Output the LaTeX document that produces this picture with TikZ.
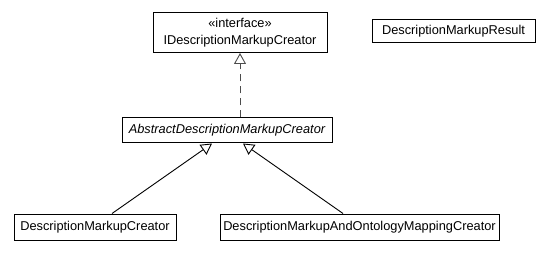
\documentclass[tikz,border=0pt]{standalone}
\usepackage{fontspec}
\setmainfont{Liberation Sans}
\usetikzlibrary{arrows.meta}
\begin{document}
\begin{tikzpicture}[x=1pt,y=-1pt,
  classbox/.style={draw=black,fill=white,line width=1pt,inner sep=0pt,
    font=\fontsize{12.8}{17}\selectfont,align=center},
  gen/.style={draw=black,line width=0.9pt,
    -{Triangle[open,length=11pt,width=12pt,fill=white]}},
  realize/.style={gen,draw=black!70,dash pattern=on 7pt off 5pt}]
\useasboundingbox (0,0) rectangle (553,256);
\node[classbox,minimum width=174pt,minimum height=40pt] (iface) at (240,32.5)
  {«interface»\\IDescriptionMarkupCreator};
\node[classbox,minimum width=163pt,minimum height=23pt] (result) at (453.5,31.5)
  {DescriptionMarkupResult};
\node[classbox,minimum width=210pt,minimum height=25pt,
  font=\fontsize{12.8}{15}\selectfont\itshape] (abs) at (227,130.5)
  {AbstractDescriptionMarkupCreator};
\node[classbox,minimum width=162pt,minimum height=26pt] (dmc) at (95,227)
  {DescriptionMarkupCreator};
\node[classbox,minimum width=279pt,minimum height=26pt] (dmao) at (359.5,227)
  {DescriptionMarkupAndOntologyMappingCreator};
\draw[realize] ([xshift=13pt]abs.north) -- (iface.south);
\draw[gen] ([xshift=17pt]dmc.north) -- ([xshift=-15pt]abs.south);
\draw[gen] ([xshift=-16.5pt]dmao.north) -- ([xshift=16pt]abs.south);
\end{tikzpicture}
\end{document}
